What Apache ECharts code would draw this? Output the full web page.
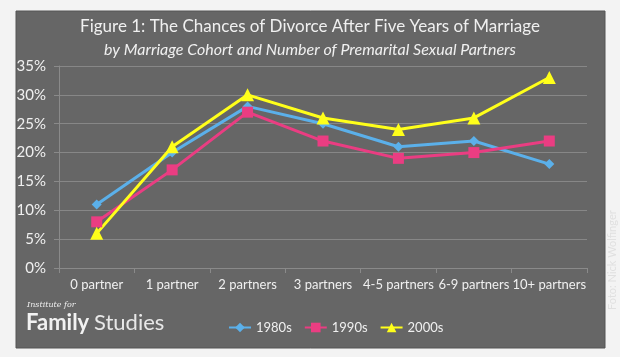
<!DOCTYPE html>
<html><head><meta charset="utf-8">
<script src="https://cdn.jsdelivr.net/npm/echarts@6/dist/echarts.min.js"></script>
<style>html,body{margin:0;padding:0;background:#f3f3f3}#c{width:620px;height:357px}</style>
</head><body><div id="c"></div>
<script>
var categories = ['0 partner','1 partner','2 partners','3 partners','4-5 partners','6-9 partners','10+ partners'];
var s1980 = [11, 20, 28, 25, 21, 22, 18];
var s1990 = [8, 17, 27, 22, 19, 20, 22];
var s2000 = [6, 21, 30, 26, 24, 26, 33];
var seriesNames = ['1980s','1990s','2000s'];
var titleText = 'Figure 1: The Chances of Divorce After Five Years of Marriage';
var subText = 'by Marriage Cohort and Number of Premarital Sexual Partners';

var F = 'Lato, "Open Sans", sans-serif';
var chart = echarts.init(document.getElementById('c'));
chart.setOption({
  backgroundColor: '#f3f3f3',
  animation: false,
  graphic: [
    {type:'rect', shape:{x:16,y:11,width:589,height:337}, style:{fill:'#666666', stroke:'#555', lineWidth:1}, z:-10},
    {type:'text', left:27, top:301, style:{text:'Institute for', fill:'#eeeeee', font:'italic 8px "DejaVu Serif", serif'}},
    {type:'text', left:26, top:312, style:{text:'Family', fill:'#f2f2f2', font:'bold 22px ' + F}},
    {type:'text', left:94, top:312, style:{text:'Studies', fill:'#e8e8e8', font:'22px ' + F}},
    {type:'text', x:612, y:310, rotation:Math.PI/2, style:{text:'Foto: Nick Wolfinger', fill:'#e0e0e0', font:'11px ' + F, textAlign:'left', textVerticalAlign:'middle'}}
  ],
  title: [
    {text: titleText, left:'center', top:13, textStyle:{color:'#f0f0f0', fontFamily:F, fontSize:17, fontWeight:'normal'}},
    {text: subText, left:'center', top:37, textStyle:{color:'#f0f0f0', fontFamily:F, fontSize:16, fontStyle:'italic', fontWeight:'normal'}}
  ],
  legend: {
    data: seriesNames, top:316, left:223, itemWidth:22, itemHeight:12, itemGap:12,
    textStyle:{color:'#f0f0f0', fontFamily:F, fontSize:13}
  },
  grid: {left:59, right:33, top:66, bottom:89, containLabel:false},
  xAxis: {
    type:'category', data:categories, boundaryGap:true,
    axisLine:{show:true, lineStyle:{color:'#8a8a8a'}},
    axisTick:{show:true, length:5, lineStyle:{color:'#8a8a8a'}},
    axisLabel:{color:'#f0f0f0', fontFamily:F, fontSize:13, margin:10, interval:0}
  },
  yAxis: {
    type:'value', min:0, max:35, interval:5,
    axisLine:{show:true, lineStyle:{color:'#8a8a8a'}},
    axisTick:{show:true, length:5, lineStyle:{color:'#8a8a8a'}},
    splitLine:{lineStyle:{color:'#878787', width:1}},
    axisLabel:{color:'#f0f0f0', fontFamily:F, fontSize:15, margin:13, formatter:'{value}%'}
  },
  series: [
    {name:'1980s', type:'line', data:s1980, symbol:'diamond', symbolSize:10,
      lineStyle:{width:3, color:'#5bb0ea'}, itemStyle:{color:'#5bb0ea'}},
    {name:'1990s', type:'line', data:s1990, symbol:'rect', symbolSize:11,
      lineStyle:{width:3, color:'#ea3d82'}, itemStyle:{color:'#ea3d82'}},
    {name:'2000s', type:'line', data:s2000, symbol:'triangle', symbolSize:13,
      lineStyle:{width:3, color:'#ffff1a'}, itemStyle:{color:'#ffff1a'}}
  ]
});
</script></body></html>
